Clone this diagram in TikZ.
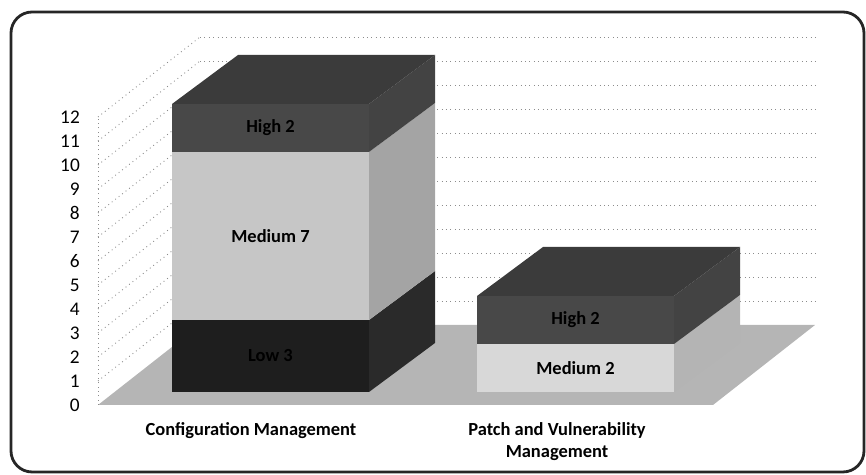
\documentclass[tikz,border=0pt]{standalone}
\usepackage{fontspec}
\setmainfont{Carlito}
\usetikzlibrary{calc}

\definecolor{floorgray}{HTML}{B5B5B5}
\definecolor{lowfront}{HTML}{1E1E1E}
\definecolor{lowside}{HTML}{2A2A2A}
\definecolor{medfront}{HTML}{C6C6C6}
\definecolor{medside}{HTML}{A4A4A4}
\definecolor{medfrontb}{HTML}{D8D8D8}
\definecolor{medsideb}{HTML}{B4B4B4}
\definecolor{highfront}{HTML}{484848}
\definecolor{highside}{HTML}{434343}
\definecolor{hightop}{HTML}{3B3B3B}

\begin{document}
\begin{tikzpicture}[
  x=0.02cm, y=-0.02cm,
  font=\fontsize{10.5}{12}\selectfont,
  frame/.style={draw=black!85, line width=1.6pt, rounded corners=12pt},
  gridline/.style={draw=black!45, dotted, line width=0.5pt},
  tick/.style={anchor=east, font=\fontsize{11}{12}\selectfont},
  catlabel/.style={font=\fontsize{10.5}{12.5}\selectfont\bfseries, align=center},
  seglabel/.style={font=\fontsize{10.5}{12}\selectfont\bfseries, text=black},
]
\useasboundingbox (0,0) rectangle (866,475);

% --- Frame ---
\draw[frame] (11,12) rectangle (864,472);

% --- Floor ---
\fill[floorgray] (98,405) -- (713,405) -- (815,325) -- (200,325) -- cycle;

% --- Side wall and back wall grid ---
\draw[gridline] (98,405) -- (98,117);
\foreach \v in {1,...,12}{
  \draw[gridline] (98,{405-24*\v}) -- ++(102,-80);
  \draw[gridline] (200,{325-24*\v}) -- ++(615,0);
}

% --- Value axis ---
\foreach \v in {0,...,12}
  \node[tick] (tick\v) at (86,{405-24*\v}) {\v};

% --- Stacked bars: left x / from / to / front / side / label / name ---
\foreach \xl/\va/\vb/\fc/\sc/\txt/\nm in {
  172/0/3/lowfront/lowside/Low 3/cmlow,
  172/3/10/medfront/medside/Medium 7/cmmed,
  172/10/12/highfront/highside/High 2/cmhigh,
  477/0/2/medfrontb/medsideb/Medium 2/pvmed,
  477/2/4/highfront/highside/High 2/pvhigh}{
  \fill[\fc] (\xl,{392-24*\va}) rectangle ({\xl+197},{392-24*\vb});
  \fill[\sc] ({\xl+197},{392-24*\va}) -- ++(66,-49) -- ++(0,{-24*(\vb-\va)})
    -- ({\xl+197},{392-24*\vb}) -- cycle;
  \node[seglabel] (\nm) at ({\xl+98.5},{392-12*(\va+\vb)}) {\txt};
}

% --- Top faces ---
\fill[hightop] (172,104) -- ++(66,-49) -- ++(197,0) -- (369,104) -- cycle;
\fill[hightop] (477,296) -- ++(66,-49) -- ++(197,0) -- (674,296) -- cycle;

% --- Category labels ---
\node[catlabel] (cfg) at (251,431) {Configuration Management};
\node[catlabel] (pvm) at (557,442) {Patch and Vulnerability\\Management};

\end{tikzpicture}
\end{document}
